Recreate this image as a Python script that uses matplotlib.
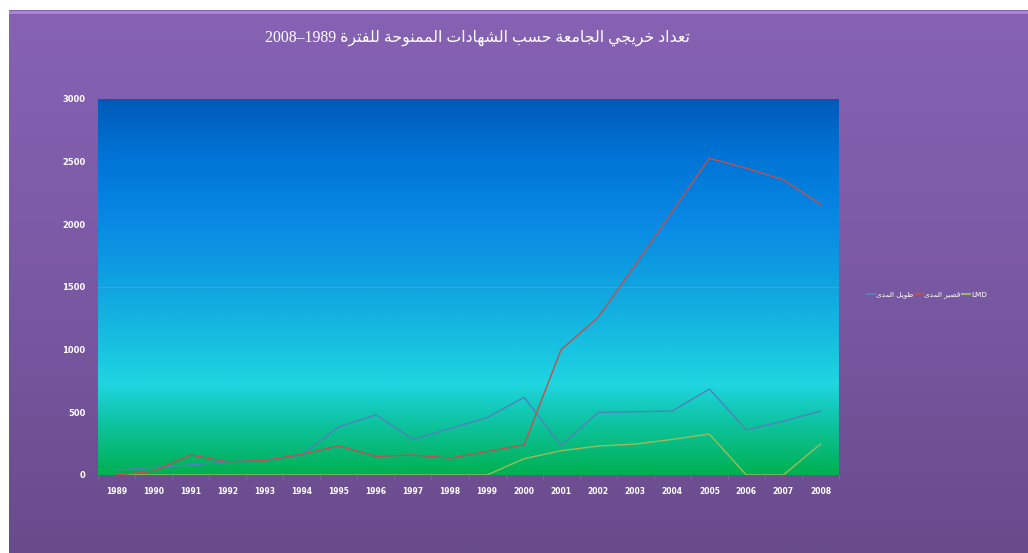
import numpy as np
import matplotlib
matplotlib.use("Agg")
import matplotlib.pyplot as plt
from matplotlib.colors import LinearSegmentedColormap
from matplotlib.lines import Line2D

# ---------------- data ----------------
years = [str(y) for y in range(1989, 2009)]
long_term = [40, 60, 80, 105, 120, 160, 385, 480, 285, 370, 458, 620, 235, 500, 505, 510, 686, 360, 430, 510]
short_term = [0, 30, 160, 105, 115, 165, 232, 148, 160, 135, 186, 240, 1000, 1258, 1676, 2100, 2527, 2448, 2354, 2160]
lmd = [0, 0, 0, 0, 0, 0, 0, 0, 0, 0, 0, 130, 194, 231, 247, 284, 327, 0, 0, 247]
yticks = [0, 500, 1000, 1500, 2000, 2500, 3000]
title_text = "تعداد خريجي الجامعة حسب الشهادات الممنوحة للفترة 1989–2008"
series_names = ["طويل المدى", "قصير المدى", "LMD"]

# ---------------- minimal Arabic shaping (presentation forms) ----------------
FORMS = {
    'ا': (0xFE8D, 0xFE8E, None, None), 'أ': (0xFE83, 0xFE84, None, None),
    'ب': (0xFE8F, 0xFE90, 0xFE91, 0xFE92), 'ة': (0xFE93, 0xFE94, None, None),
    'ت': (0xFE95, 0xFE96, 0xFE97, 0xFE98), 'ج': (0xFE9D, 0xFE9E, 0xFE9F, 0xFEA0),
    'ح': (0xFEA1, 0xFEA2, 0xFEA3, 0xFEA4), 'خ': (0xFEA5, 0xFEA6, 0xFEA7, 0xFEA8),
    'د': (0xFEA9, 0xFEAA, None, None), 'ر': (0xFEAD, 0xFEAE, None, None),
    'س': (0xFEB1, 0xFEB2, 0xFEB3, 0xFEB4), 'ش': (0xFEB5, 0xFEB6, 0xFEB7, 0xFEB8),
    'ص': (0xFEB9, 0xFEBA, 0xFEBB, 0xFEBC), 'ط': (0xFEC1, 0xFEC2, 0xFEC3, 0xFEC4),
    'ع': (0xFEC9, 0xFECA, 0xFECB, 0xFECC), 'ف': (0xFED1, 0xFED2, 0xFED3, 0xFED4),
    'ق': (0xFED5, 0xFED6, 0xFED7, 0xFED8), 'ل': (0xFEDD, 0xFEDE, 0xFEDF, 0xFEE0),
    'م': (0xFEE1, 0xFEE2, 0xFEE3, 0xFEE4), 'ن': (0xFEE5, 0xFEE6, 0xFEE7, 0xFEE8),
    'ه': (0xFEE9, 0xFEEA, 0xFEEB, 0xFEEC), 'و': (0xFEED, 0xFEEE, None, None),
    'ى': (0xFEEF, 0xFEF0, None, None), 'ي': (0xFEF1, 0xFEF2, 0xFEF3, 0xFEF4),
    '\u0001': (0xFEFB, 0xFEFC, None, None),  # lam-alef ligature
}


def shape(text):
    t = text.replace('لا', '\u0001')
    out = []
    for i, ch in enumerate(t):
        if ch not in FORMS:
            out.append(ch)
            continue
        f = FORMS[ch]
        prev = t[i - 1] if i > 0 else ''
        nxt = t[i + 1] if i + 1 < len(t) else ''
        join_prev = prev in FORMS and FORMS[prev][2] is not None
        join_next = nxt in FORMS and f[2] is not None
        if join_prev and join_next:
            cp = f[3]
        elif join_prev:
            cp = f[1]
        elif join_next:
            cp = f[2]
        else:
            cp = f[0]
        out.append(chr(cp))
    s = ''.join(out)[::-1]
    # restore left-to-right order of digit / latin runs
    res, run = [], []
    for ch in s:
        if ch.isascii() and ch.isalnum():
            run.append(ch)
        else:
            if run:
                res.append(''.join(run[::-1]))
                run = []
            res.append(ch)
    if run:
        res.append(''.join(run[::-1]))
    return ''.join(res)


# ---------------- figure ----------------
W, H = 1028, 553
fig = plt.figure(figsize=(W / 100, H / 100), dpi=100)
fig.patch.set_facecolor('white')

# figure background gradient (purple)
bg = fig.add_axes([9 / W, 0, 1 - 9 / W, (H - 10) / H])
bg.set_axis_off()
bg_cmap = LinearSegmentedColormap.from_list('bg', ['#8762b4', '#7a59a4', '#694b8b'])
bg.imshow(np.linspace(0, 1, 256).reshape(-1, 1), cmap=bg_cmap, aspect='auto',
          extent=(0, 1, 0, 1), origin='upper')
bg.axhline(0.997, color='#a886d8', lw=2)
bg.set_xlim(0, 1)
bg.set_ylim(0, 1)

# plot area
left, right, top, bottom = 98, 839, 99, 475
ax = fig.add_axes([left / W, (H - bottom) / H, (right - left) / W, (bottom - top) / H])
ax.set_zorder(2)
pa_cmap = LinearSegmentedColormap.from_list('pa', [
    (0.0, '#005ab8'), (0.15, '#0074d6'), (0.32, '#0888e4'), (0.5, '#10a4e0'),
    (0.66, '#18c2e0'), (0.76, '#20d6e0'), (0.83, '#12c8b4'), (1.0, '#00b050')])
n = len(years)
ax.imshow(np.linspace(0, 1, 512).reshape(-1, 1), cmap=pa_cmap, aspect='auto',
          extent=(-0.5, n - 0.5, 0, 3000), origin='upper', zorder=0)
ax.axhline(1500, color='#b08080', lw=0.8, alpha=0.8, zorder=1)

x = np.arange(n)
c_blue, c_red, c_green = '#4f81bd', '#c0504d', '#9bbb59'
ax.plot(x, lmd, color=c_green, lw=1.0, zorder=3)
ax.plot(x, long_term, color=c_blue, lw=1.0, zorder=4)
ax.plot(x, short_term, color=c_red, lw=1.0, zorder=5)

ax.set_xlim(-0.5, n - 0.5)
ax.set_ylim(0, 3000)
for s in ax.spines.values():
    s.set_visible(False)
ax.set_yticks(yticks)
ax.set_yticklabels([str(v) for v in yticks], color='white', fontsize=6, fontweight='bold')
ax.set_xticks(x)
ax.set_xticklabels(years, color='white', fontsize=5.5, fontweight='bold')
ax.tick_params(axis='both', length=0, pad=9)
ax.set_xticks(np.arange(-0.5, n, 1), minor=True)
ax.tick_params(axis='x', which='minor', length=3, color='#7a6a9a', width=0.8)

# title
fig.text(477 / W, 1 - 38 / H, shape(title_text), ha='center', va='center',
         color='white', fontsize=11.3, family=['Liberation Serif', 'DejaVu Sans'])

# legend
handles = [Line2D([], [], color=c, lw=1.5) for c in (c_blue, c_red, c_green)]
labels = [shape(s) for s in series_names]
fig.legend(handles, labels, loc='center', bbox_to_anchor=(927 / W, 1 - 295 / H),
           ncol=3, frameon=False, handlelength=1.1, handletextpad=0.2,
           columnspacing=0.2, labelcolor='white', prop={'size': 5.2})

fig.savefig('out.png', dpi=100, facecolor=fig.get_facecolor())
